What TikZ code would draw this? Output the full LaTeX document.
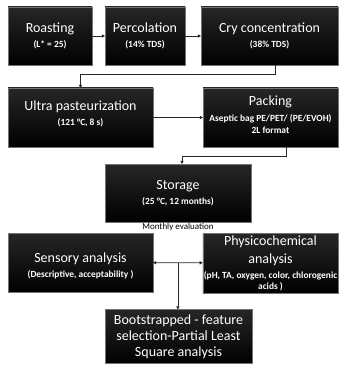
\documentclass[tikz,border=0pt]{standalone}
\usepackage{fontspec}
\setmainfont{Carlito}
\usetikzlibrary{arrows.meta,calc}
\newcommand{\ttl}{\fontsize{14}{17}\selectfont}
\newcommand{\sbt}{\fontsize{9.4}{11}\selectfont\bfseries}
\tikzset{
  stepbox/.style={rectangle, inner sep=1pt, outer sep=0pt, draw=black!55, line width=0.5pt,
    top color=black!85, middle color=black, bottom color=black,
    text=white, align=center, font=\ttl},
  arr/.style={-{Triangle[length=3.2pt,width=3.2pt]}, line width=0.7pt, draw=black!85},
  dbl/.style={{Triangle[length=3.2pt,width=3.2pt]}-{Triangle[length=3.2pt,width=3.2pt]}, line width=0.7pt, draw=black!85},
}
\begin{document}
\begin{tikzpicture}[x=1pt,y=-1pt]
\useasboundingbox (0,0) rectangle (347,366);
\node[stepbox, minimum width=84pt, minimum height=58pt] (roast) at (50,36)
  {Roasting\\[-2pt]{\sbt (L* = 25)}};
\node[stepbox, minimum width=80pt, minimum height=58pt] (perc) at (145,36)
  {Percolation\\[-2pt]{\sbt (14\% TDS)}};
\node[stepbox, minimum width=137pt, minimum height=58pt] (cry) at (269.5,36)
  {Cry concentration\\[-2pt]{\sbt (38\% TDS)}};
\node[stepbox, minimum width=145pt, minimum height=59pt] (ultra) at (80.5,117.5)
  {Ultra pasteurization\\[-2pt]{\sbt (121 °C, 8 s)}\\[-9pt]};
\node[stepbox, minimum width=135pt, minimum height=59pt] (pack) at (270.5,117.5)
  {Packing\\[-1pt]{\sbt Aseptic bag PE/PET/ (PE/EVOH)}\\[-5pt]{\sbt 2L format}\\[-12pt]};
\node[stepbox, minimum width=146pt, minimum height=58pt] (stor) at (178,193)
  {Storage\\[-2pt]{\sbt (25 °C, 12 months)}};
\node[font=\fontsize{9}{10}\selectfont, inner sep=0pt] (month) at (178,227.5) {Monthly evaluation};
\node[stepbox, minimum width=145pt, minimum height=59pt] (sens) at (80.5,262.5)
  {\rule{0pt}{16pt}Sensory analysis\\[-2pt]{\sbt (Descriptive, acceptability )}};
\node[stepbox, minimum width=135pt, minimum height=60pt] (phys) at (270.5,263)
  {Physicochemical\\[1pt]analysis\\[-2pt]{\sbt (pH, TA, oxygen, color, chlorogenic}\\[-6pt]{\sbt acids )}};
\node[stepbox, minimum width=147pt, minimum height=54pt] (boot) at (178.5,336.5)
  {Bootstrapped - feature\\[-1pt]selection-Partial Least\\[-1pt]Square analysis};
\draw[arr] (roast) -- (perc);
\draw[arr] (perc) -- (cry);
\draw[arr] ([xshift=5.5pt]cry.south) -- ++(0,9) -| (ultra.north);
\draw[arr] (ultra) -- (pack);
\draw[arr] ([xshift=15.5pt]pack.south) -- ++(0,9) -| ([xshift=4pt]stor.north);
\draw[dbl] (sens) -- (phys);
\coordinate (mid) at ($(sens.east)!0.5!(phys.west)$);
\draw[arr] (mid) -- (boot.north -| mid);
\end{tikzpicture}
\end{document}
